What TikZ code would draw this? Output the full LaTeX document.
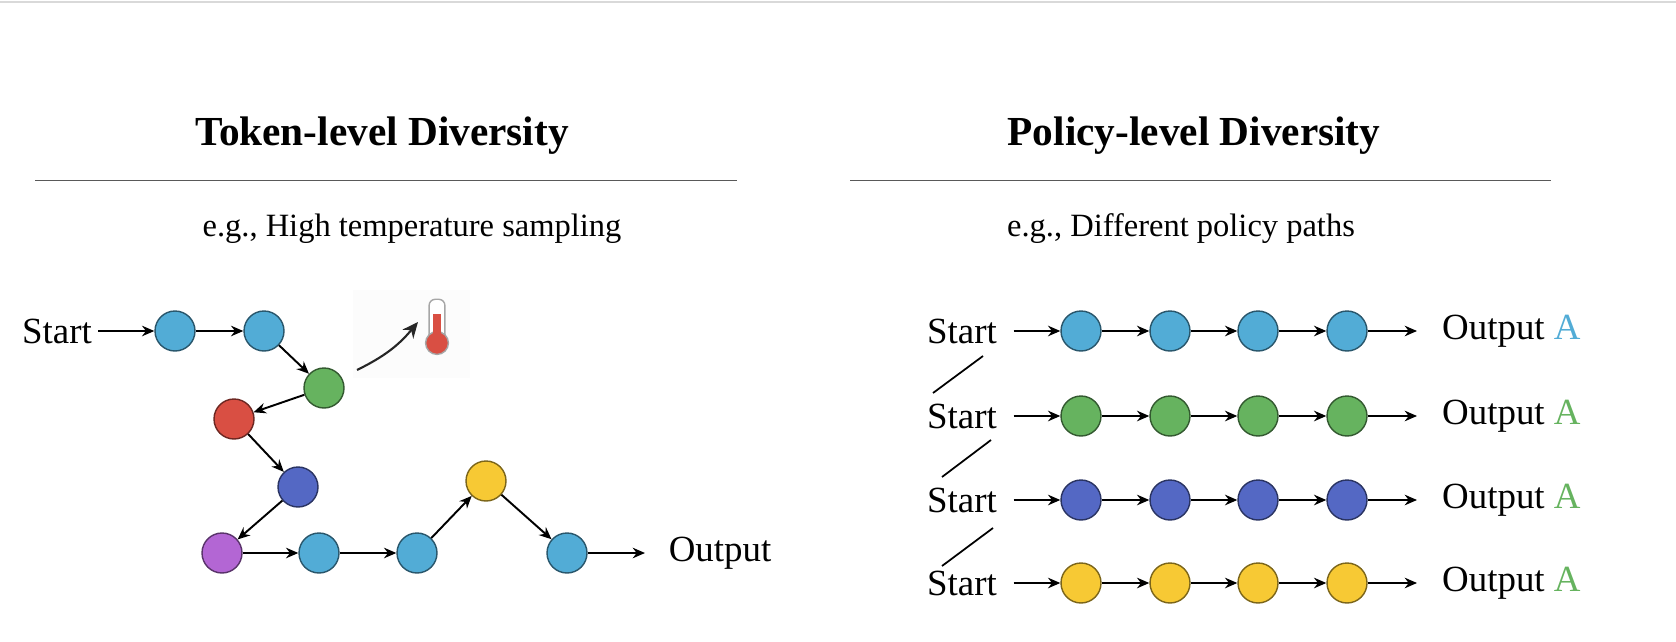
\documentclass[tikz,border=0pt]{standalone}
\usepackage{fontspec}
\setmainfont{Liberation Serif}
\usetikzlibrary{arrows.meta, calc}
\definecolor{tokblue}{HTML}{52ACD6}
\definecolor{tokgreen}{HTML}{66B35F}
\definecolor{tokred}{HTML}{D94F43}
\definecolor{tokindigo}{HTML}{5468C4}
\definecolor{tokpurple}{HTML}{B366D4}
\definecolor{tokyellow}{HTML}{F7C934}
\tikzset{
  tok/.style={circle, draw=#1!50!black, fill=#1, thick, minimum size=0.8cm, inner sep=0pt},
  flow/.style={-{Stealth[length=7pt,width=6pt]}, line width=1.1pt},
  lbl/.style={font=\fontsize{21}{24}\selectfont},
  sub/.style={font=\fontsize{18.5}{22}\selectfont},
  ttl/.style={font=\bfseries\fontsize{23.5}{26}\selectfont},
  rule/.style={gray!70!black, line width=0.5pt}
}
\begin{document}
\begin{tikzpicture}[x=0.02cm, y=-0.02cm]
  \useasboundingbox (0,0) rectangle (1676,642);
  \draw[gray!30, line width=1pt] (0,2) -- (1676,2);
  % Titles
  \node[ttl] (ttoken) at (382,136) {Token-level Diversity};
  \node[ttl] (tpolicy) at (1194,136) {Policy-level Diversity};
  \draw[rule] (35,180) -- (737,180);
  \draw[rule] (850,180) -- (1551,180);
  \node[sub] (stoken) at (412,229) {e.g., High temperature sampling};
  \node[sub] (spolicy) at (1181,229) {e.g., Different policy paths};
  % Token-level path
  \node[lbl] (start) at (57,331) {Start};
  \node[tok=tokblue] (a1) at (175,331) {};
  \node[tok=tokblue] (a2) at (264,331) {};
  \node[tok=tokgreen] (a3) at (324,388) {};
  \node[tok=tokred] (a4) at (234,419) {};
  \node[tok=tokindigo] (a5) at (298,487) {};
  \node[tok=tokpurple] (a6) at (222,553) {};
  \node[tok=tokblue] (a7) at (319,553) {};
  \node[tok=tokblue] (a8) at (417,553) {};
  \node[tok=tokyellow] (a9) at (486,481) {};
  \node[tok=tokblue] (a10) at (567,553) {};
  \node[lbl] (output) at (720,553) {Output};
  \coordinate (oend) at (645,553);
  \draw[flow] (start) -- (a1);
  \foreach \p/\q in {a1/a2,a2/a3,a3/a4,a4/a5,a5/a6,a6/a7,a7/a8,a8/a9,a9/a10}
    \draw[flow] (\p) -- (\q);
  \draw[flow] (a10) -- (oend);
  % Temperature
  \fill[gray!2] (353,290) rectangle (470,378);
  \coordinate (hot0) at (357,370);
  \coordinate (hot1) at (418,322);
  \draw[-{Stealth[length=9pt,width=8pt]}, line width=1.2pt, black!85] (hot0) to[bend right=12] (hot1);
  \node[draw=gray!70, line width=0.8pt, fill=white, rounded corners=3.5pt, minimum width=9pt, minimum height=27pt, inner sep=0pt] (therm) at (437,323) {};
  \filldraw[draw=gray!70, line width=0.8pt, fill=tokred] (437,343) circle (6.5pt);
  \fill[tokred] ($(437,343)+(-2.2pt,0)$) rectangle ($(437,314)+(2.2pt,0)$);
  % Policy-level paths
  \foreach \r/\y/\c/\ac in {1/331/tokblue/tokblue,2/416/tokgreen/tokgreen,3/500/tokindigo/tokgreen,4/583/tokyellow/tokgreen} {
    \node[lbl] (s\r) at (962,\y) {Start};
    \foreach \k/\x in {1/1081,2/1170,3/1258,4/1347}
      \node[tok=\c] (p\r\k) at (\x,\y) {};
    \node[lbl, anchor=west] (o\r) at (1436,\y) {Output \textcolor{\ac}{A}};
    \coordinate (e\r) at (1417,\y);
    \draw[flow, shorten <=6pt] (s\r) -- (p\r1);
    \draw[flow] (p\r1) -- (p\r2);
    \draw[flow] (p\r2) -- (p\r3);
    \draw[flow] (p\r3) -- (p\r4);
    \draw[flow] (p\r4) -- (e\r);
  }
  \draw[line width=1pt] (983,356) -- (933,393);
  \draw[line width=1pt] (991,440) -- (942,477);
  \draw[line width=1pt] (993,528) -- (942,566);
\end{tikzpicture}
\end{document}
